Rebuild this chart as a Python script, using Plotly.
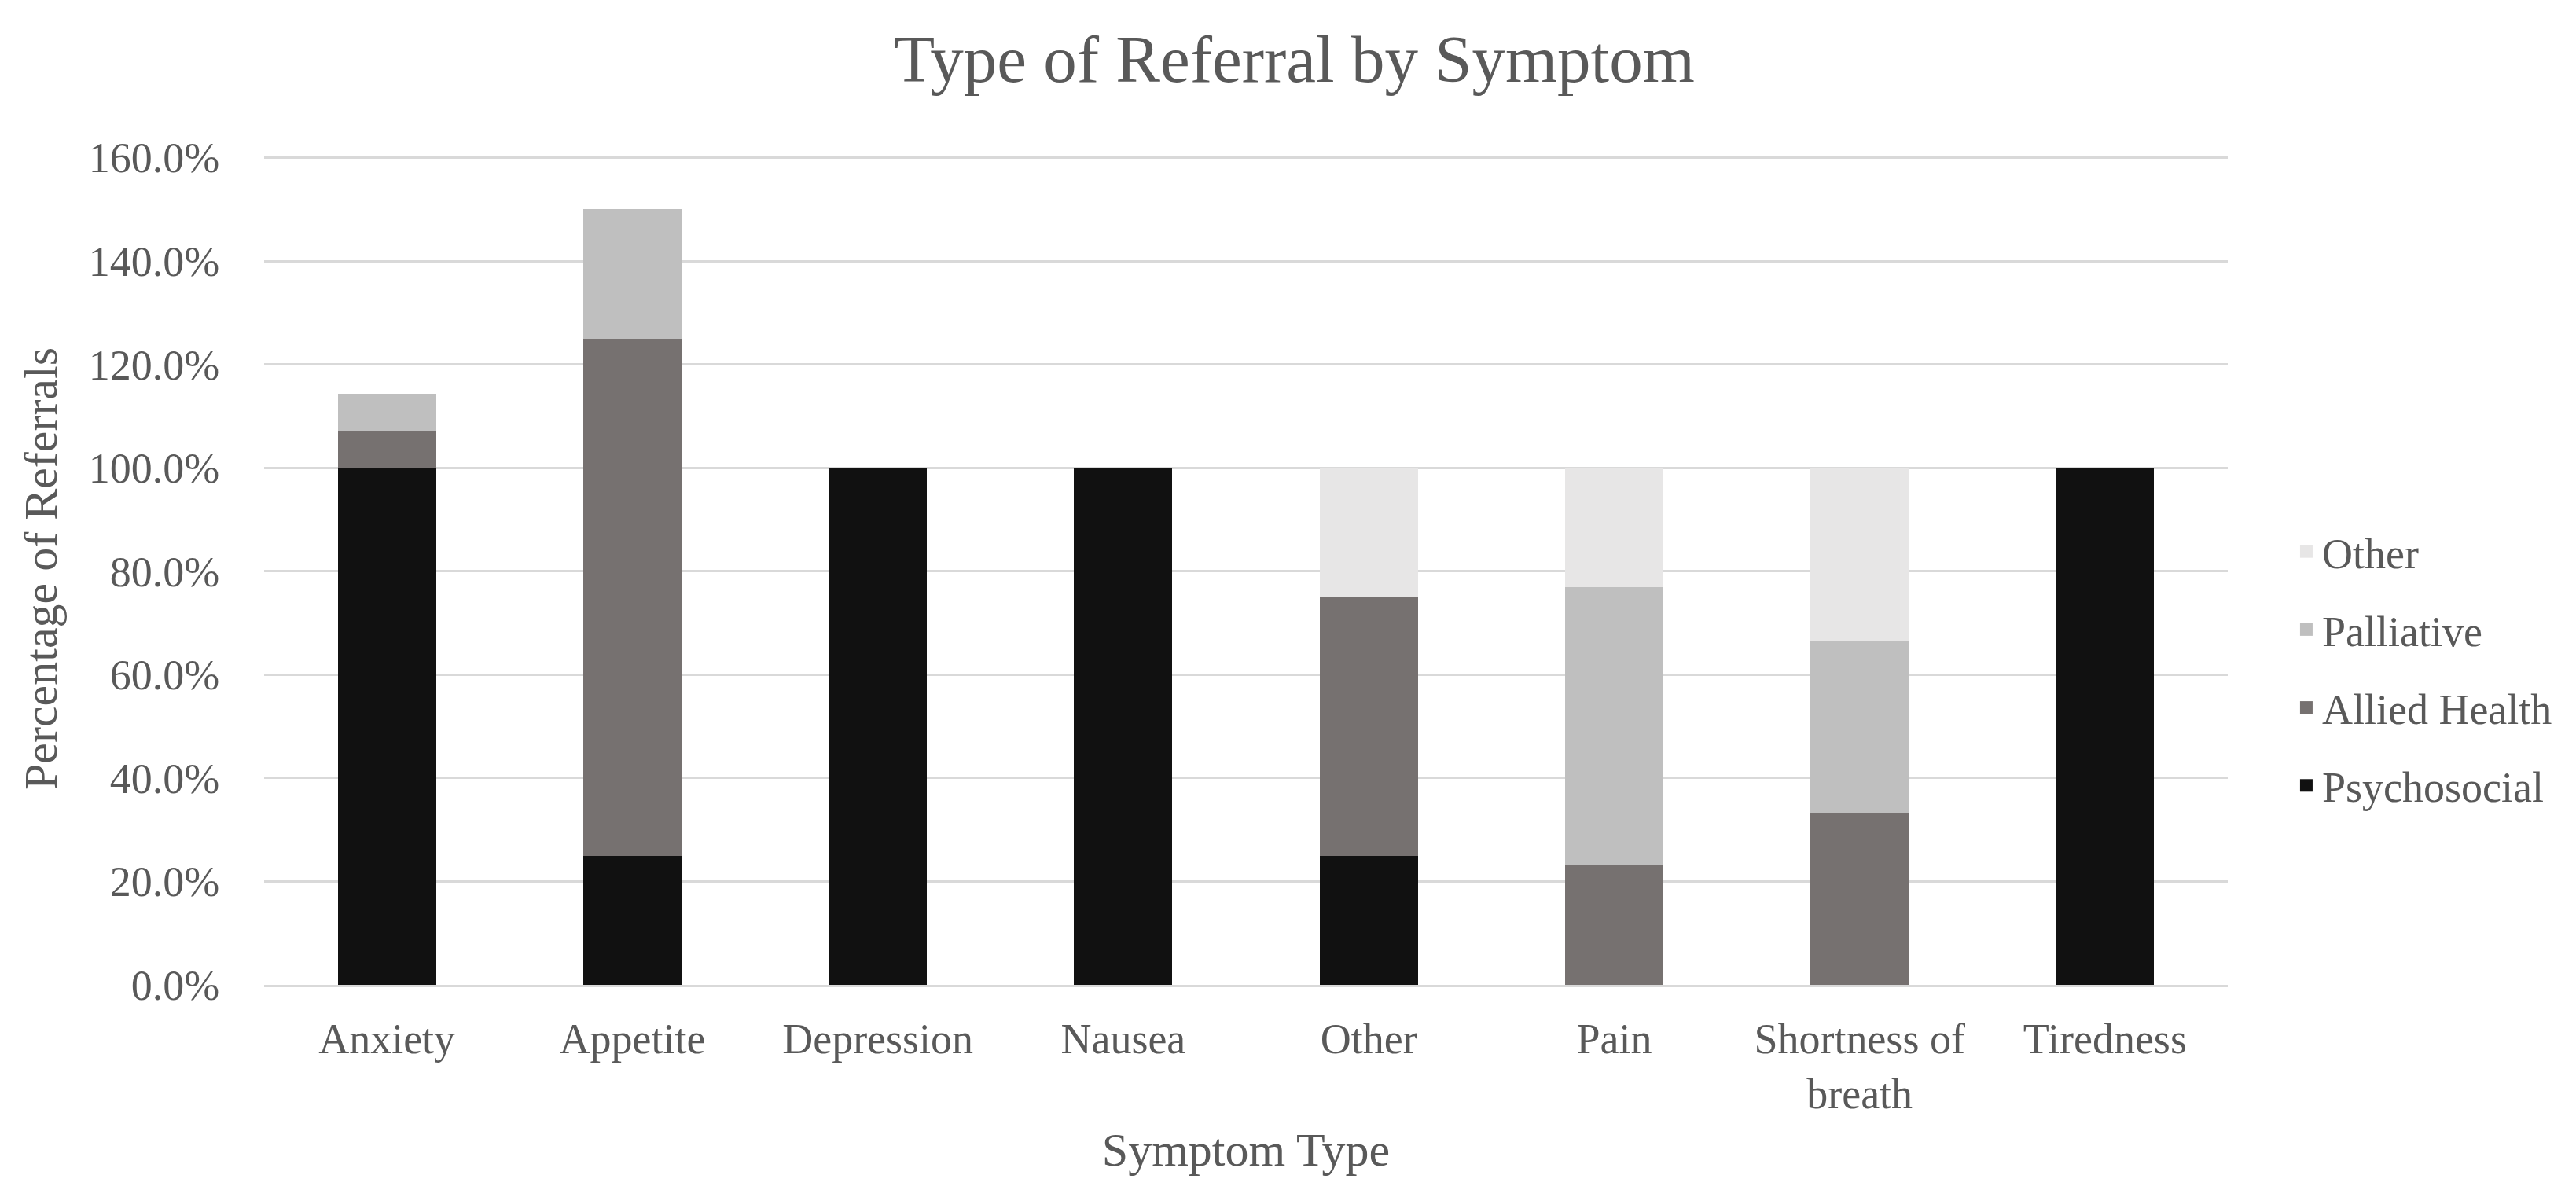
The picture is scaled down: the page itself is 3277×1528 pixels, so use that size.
import plotly.graph_objects as go

categories = ["Anxiety", "Appetite", "Depression", "Nausea", "Other", "Pain", "Shortness of<br>breath", "Tiredness"]
psychosocial = [1.0, 0.25, 1.0, 1.0, 0.25, 0.0, 0.0, 1.0]
allied_health = [0.0714, 1.0, 0.0, 0.0, 0.50, 0.2308, 0.3333, 0.0]
palliative = [0.0714, 0.25, 0.0, 0.0, 0.0, 0.5385, 0.3333, 0.0]
other = [0.0, 0.0, 0.0, 0.0, 0.25, 0.2308, 0.3333, 0.0]

series_names = ["Psychosocial", "Allied Health", "Palliative", "Other"]
series_values = [psychosocial, allied_health, palliative, other]
colors = ["#111111", "#767170", "#bfbfbf", "#e7e6e6"]

FONT = "Liberation Serif, Times New Roman, serif"
GREY = "#595959"

fig = go.Figure()
for name, vals, col in zip(series_names, series_values, colors):
    fig.add_trace(go.Bar(x=categories, y=vals, name=name, marker_color=col,
                         marker_line_width=0, legendgroup=name, showlegend=False))
# legend entries with square swatches, top entry = last stacked series
for name, col in reversed(list(zip(series_names, colors))):
    fig.add_trace(go.Scatter(x=[None], y=[None], mode="markers", name=name,
                             legendgroup=name,
                             marker=dict(symbol="square", size=27, color=col)))

fig.update_layout(
    width=3277, height=1528,
    barmode="stack", bargap=0.6,
    plot_bgcolor="white", paper_bgcolor="white",
    margin=dict(l=328, r=451, t=186, b=283),
    font=dict(family=FONT, color=GREY, size=54),
    title=dict(text="Type of Referral by Symptom", x=0.5, xanchor="center",
               y=1 - 66 / 1528, yanchor="middle",
               font=dict(family=FONT, size=85, color=GREY)),
    legend=dict(x=1.032, xanchor="left", y=0.38, yanchor="middle",
                traceorder="grouped", tracegroupgap=26,
                itemwidth=30,
                font=dict(family=FONT, size=54, color=GREY)),
    showlegend=True,
)
fig.update_yaxes(range=[0, 1.61], tick0=0, dtick=0.2, tickformat=".1%",
                 showgrid=True, gridcolor="#d9d9d9", gridwidth=3,
                 zeroline=False, ticks="outside", ticklen=45,
                 tickcolor="rgba(0,0,0,0)",
                 tickfont=dict(family=FONT, size=54, color=GREY),
                 title=dict(text="Percentage of Referrals", standoff=20,
                            font=dict(family=FONT, size=60, color=GREY)))
fig.update_xaxes(showline=True, linecolor="#d9d9d9", linewidth=3,
                 ticks="outside", ticklen=19, tickcolor="rgba(0,0,0,0)",
                 tickfont=dict(family=FONT, size=54, color=GREY),
                 title=dict(text="Symptom Type", standoff=20,
                            font=dict(family=FONT, size=60, color=GREY)))

fig.write_html("out.html")
